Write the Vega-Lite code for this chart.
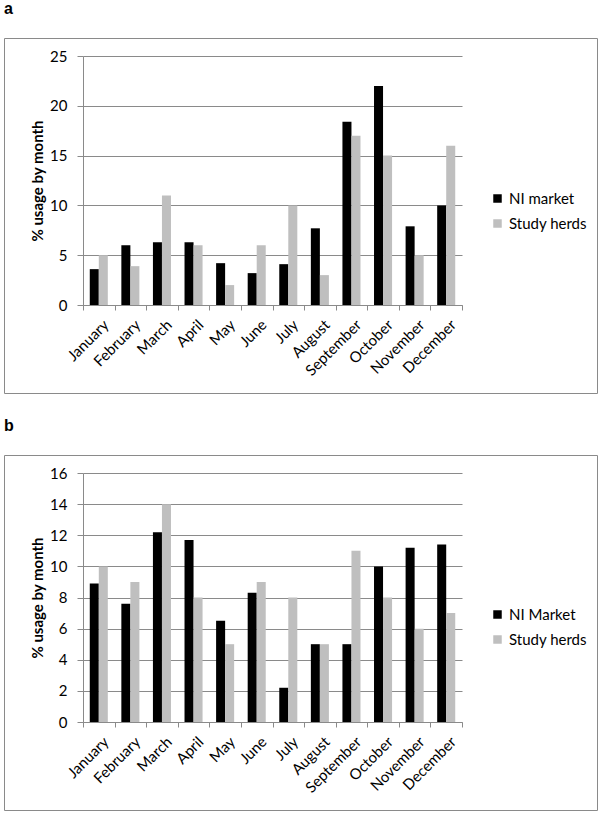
{
  "$schema": "https://vega.github.io/schema/vega-lite/v6.json",
  "padding": {"left": 3, "top": 0, "right": 3, "bottom": 0},
  "autosize": {"type": "pad"},
  "background": "white",
  "datasets": {
    "a": [
      {"month": "January", "series": "NI market", "value": 3.6},
      {"month": "January", "series": "Study herds", "value": 5},
      {"month": "February", "series": "NI market", "value": 6},
      {"month": "February", "series": "Study herds", "value": 3.9},
      {"month": "March", "series": "NI market", "value": 6.3},
      {"month": "March", "series": "Study herds", "value": 11},
      {"month": "April", "series": "NI market", "value": 6.3},
      {"month": "April", "series": "Study herds", "value": 6},
      {"month": "May", "series": "NI market", "value": 4.2},
      {"month": "May", "series": "Study herds", "value": 2},
      {"month": "June", "series": "NI market", "value": 3.2},
      {"month": "June", "series": "Study herds", "value": 6},
      {"month": "July", "series": "NI market", "value": 4.1},
      {"month": "July", "series": "Study herds", "value": 10},
      {"month": "August", "series": "NI market", "value": 7.7},
      {"month": "August", "series": "Study herds", "value": 3},
      {"month": "September", "series": "NI market", "value": 18.4},
      {"month": "September", "series": "Study herds", "value": 17},
      {"month": "October", "series": "NI market", "value": 22},
      {"month": "October", "series": "Study herds", "value": 15},
      {"month": "November", "series": "NI market", "value": 7.9},
      {"month": "November", "series": "Study herds", "value": 5},
      {"month": "December", "series": "NI market", "value": 10},
      {"month": "December", "series": "Study herds", "value": 16}
    ],
    "b": [
      {"month": "January", "series": "NI Market", "value": 8.9},
      {"month": "January", "series": "Study herds", "value": 10},
      {"month": "February", "series": "NI Market", "value": 7.6},
      {"month": "February", "series": "Study herds", "value": 9},
      {"month": "March", "series": "NI Market", "value": 12.2},
      {"month": "March", "series": "Study herds", "value": 14},
      {"month": "April", "series": "NI Market", "value": 11.7},
      {"month": "April", "series": "Study herds", "value": 8},
      {"month": "May", "series": "NI Market", "value": 6.5},
      {"month": "May", "series": "Study herds", "value": 5},
      {"month": "June", "series": "NI Market", "value": 8.3},
      {"month": "June", "series": "Study herds", "value": 9},
      {"month": "July", "series": "NI Market", "value": 2.2},
      {"month": "July", "series": "Study herds", "value": 8},
      {"month": "August", "series": "NI Market", "value": 5},
      {"month": "August", "series": "Study herds", "value": 5},
      {"month": "September", "series": "NI Market", "value": 5},
      {"month": "September", "series": "Study herds", "value": 11},
      {"month": "October", "series": "NI Market", "value": 10},
      {"month": "October", "series": "Study herds", "value": 8},
      {"month": "November", "series": "NI Market", "value": 11.2},
      {"month": "November", "series": "Study herds", "value": 6},
      {"month": "December", "series": "NI Market", "value": 11.4},
      {"month": "December", "series": "Study herds", "value": 7}
    ]
  },
  "config": {
    "font": "Lato",
    "view": {"stroke": "#8a8a8a", "strokeWidth": 1},
    "axis": {
      "domainColor": "#8a8a8a",
      "tickColor": "#8a8a8a",
      "gridColor": "#8a8a8a",
      "labelColor": "#000000",
      "titleColor": "#000000",
      "labelFont": "Lato",
      "labelFontSize": 15,
      "titleFont": "Lato",
      "tickSize": 5
    },
    "legend": {
      "labelFont": "Lato",
      "labelFontSize": 15,
      "labelColor": "#000000",
      "symbolType": "square",
      "symbolSize": 72,
      "symbolStrokeWidth": 0,
      "rowPadding": 9,
      "labelOffset": 4
    },
    "title": {"font": "Liberation Sans", "fontSize": 16, "fontWeight": "bold", "color": "#000000"}
  },
  "spacing": 23,
  "vconcat": [
    {
      "width": 593,
      "height": 355,
      "title": {"text": "a", "anchor": "start", "offset": 8, "baseline": "alphabetic"},
      "data": {"name": "a"},
      "mark": {"type": "bar"},
      "encoding": {
        "x": {
          "field": "month", "type": "nominal",
          "sort": ["January", "February", "March", "April", "May", "June", "July", "August", "September", "October", "November", "December"],
          "scale": {"range": [79, 458], "paddingInner": 0, "paddingOuter": 0},
          "axis": {"title": null, "labelAngle": -45, "offset": -88, "tickBand": "extent", "grid": false, "labelPadding": 7, "labelOffset": 2}
        },
        "xOffset": {"field": "series", "type": "nominal", "scale": {"paddingInner": 0, "paddingOuter": 0.75}},
        "y": {
          "field": "value", "type": "quantitative",
          "scale": {"domain": [0, 25], "range": [267, 18], "nice": false},
          "axis": {"title": "% usage by month", "values": [0, 5, 10, 15, 20, 25], "offset": -79, "grid": true, "tickSize": 6, "labelPadding": 10, "titleFontWeight": "bold", "titleFontSize": 15, "titlePadding": 4}
        },
        "color": {
          "field": "series", "type": "nominal",
          "scale": {"domain": ["NI market", "Study herds"], "range": ["#000000", "#bfbfbf"]},
          "legend": {"title": null, "orient": "none", "legendX": 486, "legendY": 153}
        }
      }
    },
    {
      "width": 593,
      "height": 355,
      "title": {"text": "b", "anchor": "start", "offset": 8, "baseline": "alphabetic"},
      "data": {"name": "b"},
      "mark": {"type": "bar"},
      "encoding": {
        "x": {
          "field": "month", "type": "nominal",
          "sort": ["January", "February", "March", "April", "May", "June", "July", "August", "September", "October", "November", "December"],
          "scale": {"range": [79, 458], "paddingInner": 0, "paddingOuter": 0},
          "axis": {"title": null, "labelAngle": -45, "offset": -88, "tickBand": "extent", "grid": false, "labelPadding": 7, "labelOffset": 2}
        },
        "xOffset": {"field": "series", "type": "nominal", "scale": {"paddingInner": 0, "paddingOuter": 0.75}},
        "y": {
          "field": "value", "type": "quantitative",
          "scale": {"domain": [0, 16], "range": [267, 18], "nice": false},
          "axis": {"title": "% usage by month", "values": [0, 2, 4, 6, 8, 10, 12, 14, 16], "offset": -79, "grid": true, "tickSize": 6, "labelPadding": 10, "titleFontWeight": "bold", "titleFontSize": 15, "titlePadding": 4}
        },
        "color": {
          "field": "series", "type": "nominal",
          "scale": {"domain": ["NI Market", "Study herds"], "range": ["#000000", "#bfbfbf"]},
          "legend": {"title": null, "orient": "none", "legendX": 486, "legendY": 152}
        }
      }
    }
  ],
  "resolve": {
    "scale": {"color": "independent", "x": "independent", "y": "independent", "xOffset": "independent"},
    "legend": {"color": "independent"}
  }
}
